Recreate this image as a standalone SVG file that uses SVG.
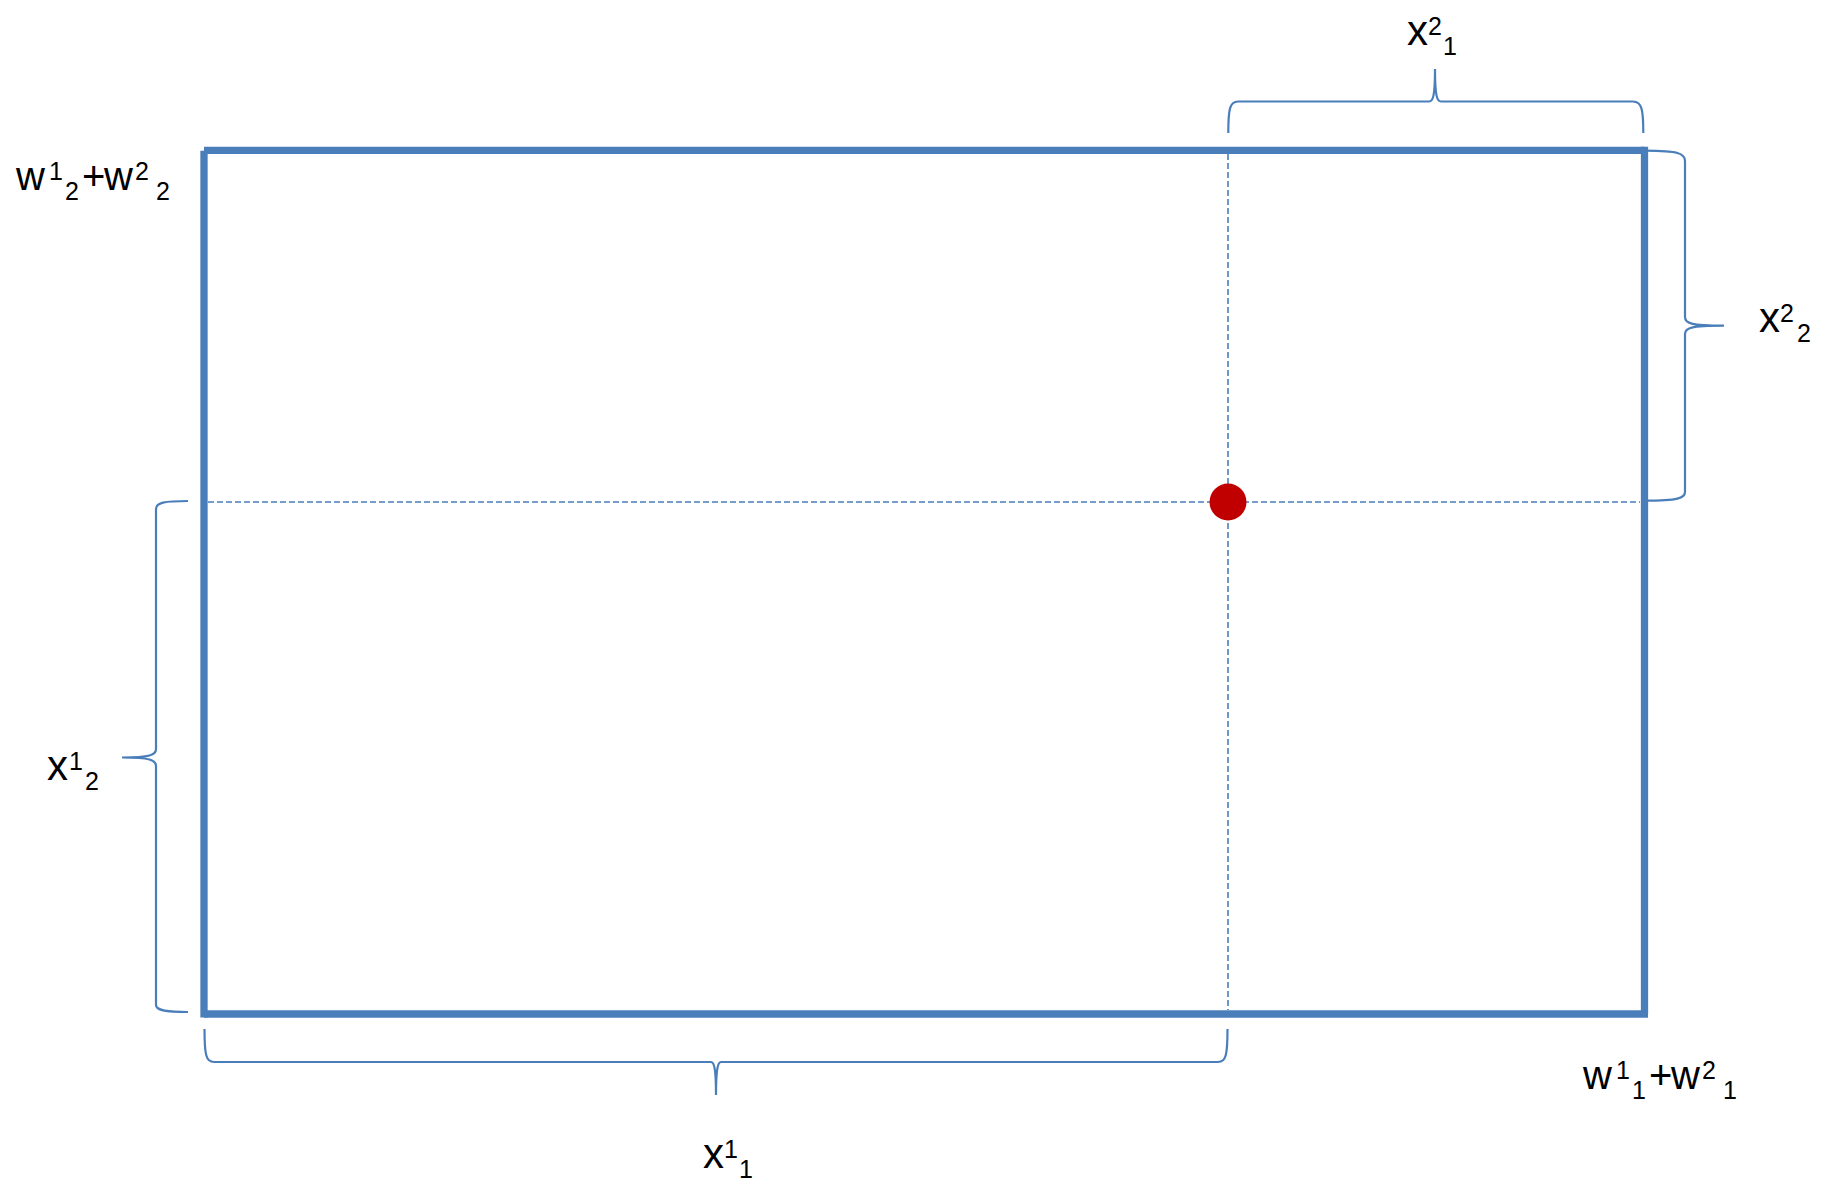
<svg xmlns="http://www.w3.org/2000/svg" width="1833" height="1183" viewBox="0 0 1833 1183">
<style>
.box{stroke:#4A7EBB;stroke-width:7.3;fill:none;stroke-linecap:butt}
.dash{stroke:#4A7EBB;stroke-width:1.6;fill:none;stroke-dasharray:6 3}
.brace{stroke:#4A7EBB;stroke-width:2.2;fill:none}
.lbl{font-family:"Liberation Sans",Arial,sans-serif;fill:#000}
.m{font-size:42px}
.w{font-size:40px}
.s{font-size:25px}
</style>
<rect width="1833" height="1183" fill="#fff"/>
<g id="box">
<path class="box" d="M204,150.3 H1644.5"/>
<path class="box" d="M1644.5,146.7 V1014"/>
<path class="box" d="M1648,1014 H204"/>
<path class="box" d="M204,1017.5 V150.7"/>
</g>
<g id="connectors">
<path class="dash" d="M1228,154 V1010"/>
<path class="dash" d="M208,502 H1640"/>
<path id="brace-top" class="brace" d="M1228.3,133 C1228.3,110 1229.5,101.5 1238,101.5 L1429,101.5 C1433,101.5 1435,96 1435,69 C1435,96 1437,101.5 1441,101.5 L1633,101.5 C1642,101.5 1643.3,110 1643.3,133"/>
<path id="brace-right" class="brace" d="M1645,150.7 C1678,151 1685,153 1685,161 L1685,317 C1685,323 1690,325.7 1724,325.7 C1690,325.7 1685,328 1685,334 L1685,492 C1685,498 1678,500.7 1645,500.7"/>
<path id="brace-left" class="brace" d="M188,501 C164,501 156,502.5 156,509 L156,749 C156,755 150,757.5 122,757.5 C150,757.5 156,760 156,766 L156,1005 C156,1010 164,1012 188,1012"/>
<path id="brace-bottom" class="brace" d="M204.5,1029 C204.5,1055 206,1062 214,1062 L711,1062 C714,1062 716,1068 716,1095 C716,1068 718,1062 721,1062 L1218,1062 C1226,1062 1227.5,1055 1227.5,1029"/>
</g>
<g id="point">
<circle cx="1228" cy="502" r="18.5" fill="#C00000"/>
</g>
<g id="label-w2">
<text class="lbl"><tspan class="w" x="16" y="190">w</tspan><tspan class="s" x="49" y="180">1</tspan><tspan class="s" x="65" y="200">2</tspan><tspan class="w" x="82" y="190">+</tspan><tspan class="w" x="104" y="190">w</tspan><tspan class="s" x="135" y="180">2</tspan><tspan class="s" x="156" y="200">2</tspan></text>
</g>
<g id="label-w1">
<text class="lbl"><tspan class="w" x="1583" y="1089">w</tspan><tspan class="s" x="1616" y="1079">1</tspan><tspan class="s" x="1632" y="1099">1</tspan><tspan class="w" x="1649" y="1089">+</tspan><tspan class="w" x="1671" y="1089">w</tspan><tspan class="s" x="1702" y="1079">2</tspan><tspan class="s" x="1723" y="1099">1</tspan></text>
</g>
<g id="label-x21">
<text class="lbl"><tspan class="m" x="1407" y="45">x</tspan><tspan class="s" x="1428" y="35">2</tspan><tspan class="s" x="1443" y="55">1</tspan></text>
</g>
<g id="label-x22">
<text class="lbl"><tspan class="m" x="1759" y="332">x</tspan><tspan class="s" x="1780" y="322">2</tspan><tspan class="s" x="1797" y="342">2</tspan></text>
</g>
<g id="label-x12">
<text class="lbl"><tspan class="m" x="47" y="780">x</tspan><tspan class="s" x="69" y="770">1</tspan><tspan class="s" x="85" y="790">2</tspan></text>
</g>
<g id="label-x11">
<text class="lbl"><tspan class="m" x="703" y="1168">x</tspan><tspan class="s" x="724" y="1158">1</tspan><tspan class="s" x="739" y="1178">1</tspan></text>
</g>
</svg>
